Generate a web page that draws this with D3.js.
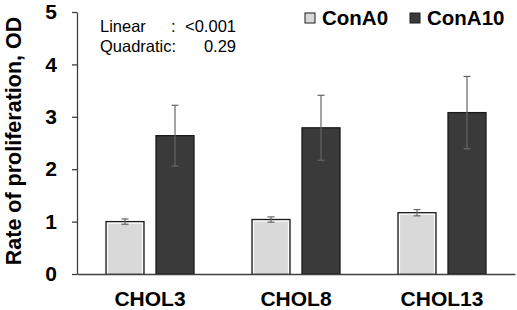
<!DOCTYPE html>
<html>
<head>
<meta charset="utf-8">
<script src="https://cdn.jsdelivr.net/npm/d3@7"></script>
<style>
  html, body { margin: 0; padding: 0; background: #fff; }
  svg { display: block; font-family: Arial, "Liberation Sans", sans-serif; }
</style>
</head>
<body>
<div id="chart"></div>
<script>
const CATEGORIES = ['CHOL3', 'CHOL8', 'CHOL13'];
const SERIES = ['ConA0', 'ConA10'];
const CONA0_MEAN = [1.00, 1.04, 1.17];
const CONA0_ERR = [0.05, 0.05, 0.06];
const CONA10_MEAN = [2.64, 2.79, 3.08];
const CONA10_ERR = [0.58, 0.62, 0.69];
const Y_TICKS = [0, 1, 2, 3, 4, 5];
const TREND_LABELS = ['Linear', 'Quadratic:'];
const TREND_VALUES = ['<0.001', '0.29'];

const COLORS = { ConA0: '#d9d9d9', ConA10: '#3a3a3a' };
const WIDTH = 517, HEIGHT = 310;
const MARGIN = { top: 12, right: 2, bottom: 36, left: 77 };

const rows = CATEGORIES.flatMap((c, i) => [
  { cat: c, series: 'ConA0', value: CONA0_MEAN[i], err: CONA0_ERR[i] },
  { cat: c, series: 'ConA10', value: CONA10_MEAN[i], err: CONA10_ERR[i] }
]);

const svg = d3.select('#chart').append('svg')
  .attr('width', WIDTH)
  .attr('height', HEIGHT);

const x0 = d3.scaleBand()
  .domain(CATEGORIES)
  .range([MARGIN.left, WIDTH - MARGIN.right])
  .padding(0);

const bw = x0.bandwidth();
const x1 = d3.scaleBand()
  .domain(SERIES)
  .range([bw / 2 - 44, bw / 2 + 44])
  .paddingInner(0.24)
  .paddingOuter(0);

const y = d3.scaleLinear()
  .domain([0, 5])
  .range([HEIGHT - MARGIN.bottom, MARGIN.top]);

// y axis
const yAxis = svg.append('g')
  .attr('transform', `translate(${MARGIN.left},0)`)
  .call(d3.axisLeft(y).tickValues(Y_TICKS).tickFormat(d3.format('d'))
    .tickSize(5).tickPadding(15).tickSizeOuter(0));
yAxis.select('.domain').attr('stroke', '#404040').attr('stroke-width', 1.3);
yAxis.selectAll('.tick line').attr('stroke', '#404040').attr('stroke-width', 1.3);
yAxis.selectAll('.tick text')
  .attr('fill', '#000')
  .style('font-size', '21px')
  .style('font-weight', 'bold')
  .style('font-family', 'Arial, "Liberation Sans", sans-serif');

svg.append('text')
  .attr('transform', `translate(21,141) rotate(-90)`)
  .attr('text-anchor', 'middle')
  .style('font-size', '21.5px')
  .style('font-weight', 'bold')
  .text('Rate of proliferation, OD');

// bars
const groups = svg.append('g').selectAll('g')
  .data(rows)
  .join('g')
  .attr('transform', d => `translate(${x0(d.cat) + x1(d.series)},0)`);

groups.append('rect')
  .attr('x', 0)
  .attr('y', d => y(d.value))
  .attr('width', x1.bandwidth())
  .attr('height', d => y(0) - y(d.value))
  .attr('fill', d => COLORS[d.series])
  .attr('stroke', '#1a1a1a')
  .attr('stroke-width', 1.3);

groups.filter(d => d.series === 'ConA0').append('rect')
  .attr('x', 1.6)
  .attr('y', d => y(d.value) + 1.6)
  .attr('width', x1.bandwidth() - 3.2)
  .attr('height', d => y(0) - y(d.value) - 1.6)
  .attr('fill', 'none')
  .attr('stroke', '#fff')
  .attr('stroke-width', 1);

// error bars
const cx = x1.bandwidth() / 2;
groups.append('line')
  .attr('x1', cx).attr('x2', cx)
  .attr('y1', d => y(d.value + d.err))
  .attr('y2', d => y(d.value - d.err))
  .attr('stroke', '#666')
  .attr('stroke-width', 1.2);
groups.selectAll('line.cap')
  .data(d => [d.value + d.err, d.value - d.err])
  .join('line')
  .attr('class', 'cap')
  .attr('x1', cx - 3.5).attr('x2', cx + 3.5)
  .attr('y1', v => y(v)).attr('y2', v => y(v))
  .attr('stroke', '#666')
  .attr('stroke-width', 1.2);

// x axis
const xAxis = svg.append('g')
  .attr('transform', `translate(0,${y(0)})`)
  .call(d3.axisBottom(x0).tickSize(0).tickPadding(17));
xAxis.select('.domain').attr('stroke', '#404040').attr('stroke-width', 1.3);
xAxis.selectAll('.tick text')
  .attr('fill', '#000')
  .style('font-size', '21px')
  .style('font-weight', 'bold')
  .style('font-family', 'Arial, "Liberation Sans", sans-serif');

// trend test annotation
const ann = svg.append('g').style('font-size', '16.5px').attr('fill', '#000');
TREND_LABELS.forEach((lab, i) => {
  const by = 32 + i * 20;
  ann.append('text').attr('x', 100).attr('y', by).text(lab);
  if (i === 0) ann.append('text').attr('x', 171).attr('y', by).text(':');
  ann.append('text').attr('x', 236).attr('y', by).attr('text-anchor', 'end').text(TREND_VALUES[i]);
});

// legend
const legX = [305, 410];
const leg = svg.append('g');
SERIES.forEach((s, i) => {
  leg.append('rect')
    .attr('x', legX[i]).attr('y', 13)
    .attr('width', 10).attr('height', 10)
    .attr('fill', COLORS[s])
    .attr('stroke', '#1a1a1a')
    .attr('stroke-width', 1);
  leg.append('text')
    .attr('x', legX[i] + 17).attr('y', 25)
    .style('font-size', '20.5px')
    .style('font-weight', 'bold')
    .text(s);
});
</script>
</body>
</html>
